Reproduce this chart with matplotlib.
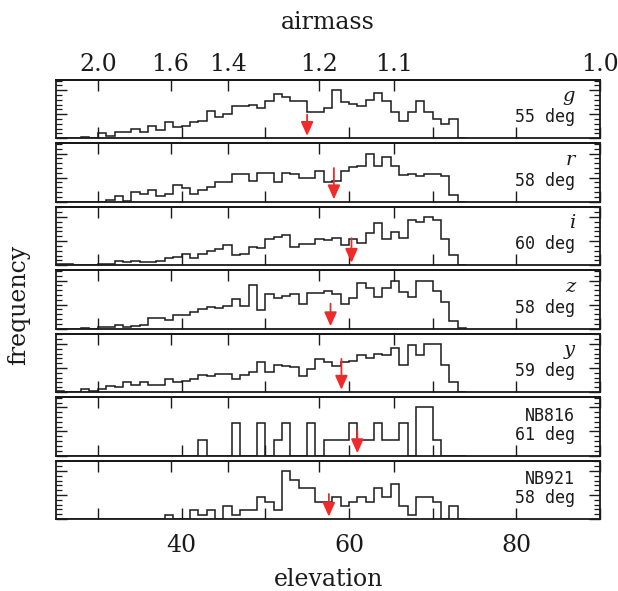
import numpy as np
import matplotlib
matplotlib.use('Agg')
import matplotlib.pyplot as plt
from matplotlib.ticker import MultipleLocator, FixedLocator, FormatStrFormatter, NullLocator

plt.rcParams['font.family'] = 'DejaVu Serif'

# 1-degree elevation bins, 25 .. 74 deg
bin_lo = 25
bin_hi = 74

filters = ['g', 'r', 'i', 'z', 'y', 'NB816', 'NB921']
median_elev = [55.0, 58.2, 60.3, 57.8, 59.1, 61.0, 57.6]
median_label = ['55 deg', '58 deg', '60 deg', '58 deg', '59 deg', '61 deg', '58 deg']
arrow_top = [4.9, 7.0, 5.6, 5.2, 6.9, 5.2, 5.2]

# frequency per bin (normalised so the peak is 10)
freq_g = [0, 0, 0, 0.3, 0, 1.1, 0.4, 1.4, 1.4, 2.0, 1.4, 2.5, 1.8, 3.4, 2.3, 2.6, 3.4,
          3.6, 5.6, 4.4, 5.0, 6.8, 6.8, 6.9, 6.2, 7.7, 9.1, 8.6, 7.7, 7.7, 5.5, 5.5,
          6.3, 10, 7.5, 7.1, 6.6, 7.9, 9.4, 7.7, 5.4, 3.6, 5.4, 7.7, 5.5, 4.1, 2.9,
          4.1, 0]
freq_r = [0, 0, 0, 0, 0, 0, 0.3, 1.2, 0.2, 2.1, 1.5, 2.4, 1.2, 1.7, 3.4, 2.8, 1.5,
          2.4, 3.1, 4.0, 4.0, 5.7, 5.7, 4.3, 6.0, 6.0, 4.0, 6.0, 5.7, 5.0, 5.0, 6.4,
          4.0, 4.3, 6.3, 7.2, 7.4, 10, 7.4, 9.3, 7.4, 5.5, 5.7, 5.3, 5.7, 5.7, 5.3,
          1.4, 0]
freq_i = [0.15, 0.15, 0.1, 0.1, 0.1, 0.3, 0.3, 0.9, 0.6, 0.8, 0.6, 0.7, 0.9, 1.5,
          1.8, 2.3, 1.5, 2.4, 2.9, 3.3, 4.1, 2.1, 2.4, 3.8, 3.6, 5.5, 5.8, 6.3, 3.8,
          4.5, 4.5, 5.4, 5.2, 5.7, 4.1, 5.4, 4.7, 6.6, 8.8, 5.5, 6.9, 5.7, 9.3, 9.0,
          10, 9.3, 5.5, 2.2, 0]
freq_z = [0, 0, 0, 0.1, 0, 0.3, 0.3, 0.7, 0.3, 0.6, 0.8, 2.2, 2.2, 1.7, 2.8, 2.9,
          3.5, 4.1, 4.4, 4.3, 4.8, 6.2, 4.8, 9.1, 3.8, 7.1, 6.4, 6.8, 7.1, 5.2, 7.5,
          7.5, 7.8, 7.1, 5.2, 6.3, 9.4, 8.4, 6.6, 8.5, 9.9, 7.7, 6.6, 10, 9.8, 7.8,
          5.6, 1.6, 0.1]
freq_y = [0.2, 0, 0, 0.6, 0.2, 0.6, 1.3, 1.0, 2.0, 1.4, 2.1, 1.5, 1.5, 2.8, 2.2, 2.4,
          2.8, 3.5, 3.3, 3.8, 3.8, 2.7, 3.5, 4.2, 6.3, 4.2, 5.6, 5.4, 5.2, 3.4, 4.8,
          6.8, 6.3, 5.4, 6.2, 6.4, 7.8, 7.0, 8.0, 7.7, 9.1, 5.7, 9.8, 7.7, 10, 10,
          5.6, 2.0, 0]
# narrow-band: raw counts per bin
count_nb816 = [0, 0, 0, 0, 0, 0, 0, 0, 0, 0, 0, 0, 0, 0, 0, 0, 0, 1, 0, 0, 0, 2, 0,
               0, 2, 0, 1, 2, 0, 0, 2, 0, 1, 1, 1, 2, 1, 1, 2, 1, 1, 2, 0, 3, 3, 1,
               0, 0, 0]
count_nb921 = [0, 0, 0, 0, 0, 0, 0, 0, 0, 0, 0, 0, 0, 1, 0, 0, 2, 1, 2, 0, 3, 1, 2,
               2, 5, 4, 2, 11, 9, 7, 7, 4, 4, 5, 3, 4, 5, 4, 7, 5, 8, 3, 1, 5, 5, 4,
               0, 3, 0]

series = [freq_g, freq_r, freq_i, freq_z, freq_y, count_nb816, count_nb921]

airmass_ticks = [2.0, 1.6, 1.4, 1.2, 1.1, 1.0]

red = '#ee2a2a'
ink = '#1a1a1a'


def elev_to_am(e):
    e = np.clip(np.asarray(e, dtype=float), 1.0, 179.0)
    return 1.0 / np.sin(np.radians(e))


def am_to_elev(a):
    a = np.clip(np.asarray(a, dtype=float), 1.0, 1e3)
    return np.degrees(np.arcsin(1.0 / a))


fig = plt.figure(figsize=(6.18, 5.91), dpi=100)
gs = fig.add_gridspec(7, 1, left=0.0906, right=0.971, bottom=0.1218, top=0.8646,
                      hspace=0.09)

edges = np.arange(bin_lo, bin_hi + 1)

for k, name in enumerate(filters):
    ax = fig.add_subplot(gs[k])
    vals = np.asarray(series[k], dtype=float)
    vals = vals / vals.max() * 10.0
    ax.stairs(vals, edges, baseline=0, color=ink, lw=1.1)

    ax.set_xlim(25, 90)
    ax.set_ylim(0, 12.1)

    ax.xaxis.set_major_locator(MultipleLocator(20))
    ax.xaxis.set_minor_locator(MultipleLocator(10))
    ax.yaxis.set_major_locator(MultipleLocator(5))
    ax.yaxis.set_minor_locator(MultipleLocator(1))
    ax.tick_params(axis='x', which='both', direction='in', top=False, bottom=True,
                   length=8, width=1.0, color=ink, labelsize=17, pad=11,
                   labelcolor=ink)
    ax.tick_params(axis='y', which='major', direction='in', left=True, right=True,
                   length=8, width=1.0, color=ink)
    ax.tick_params(axis='y', which='minor', direction='in', left=True, right=True,
                   length=4, width=0.9, color=ink)
    ax.set_yticklabels([])
    if k < len(filters) - 1:
        ax.set_xticklabels([])
    for sp in ax.spines.values():
        sp.set_linewidth(1.3)
        sp.set_color(ink)

    sec = ax.secondary_xaxis('top', functions=(elev_to_am, am_to_elev))
    sec.xaxis.set_major_locator(FixedLocator(airmass_ticks))
    sec.xaxis.set_minor_locator(NullLocator())
    sec.xaxis.set_major_formatter(FormatStrFormatter('%.1f'))
    sec.tick_params(direction='in', length=8, width=1.0, color=ink, labelsize=17,
                    pad=3, labelcolor=ink)
    sec.spines['top'].set_linewidth(1.3)
    if k > 0:
        sec.set_xticklabels([])

    ax.annotate('', xy=(median_elev[k], 0.5), xytext=(median_elev[k], arrow_top[k]),
                arrowprops=dict(arrowstyle='-|>,head_length=0.85,head_width=0.38',
                                color=red, lw=1.3, mutation_scale=10,
                                shrinkA=0, shrinkB=0))

    if len(name) == 1:
        ax.text(0.954, 0.72, name, transform=ax.transAxes, ha='right', va='center',
                fontsize=14, fontstyle='italic', color=ink)
    else:
        ax.text(0.954, 0.68, name, transform=ax.transAxes, ha='right', va='center',
                fontsize=12, family='DejaVu Sans Mono', color=ink)
    ax.text(0.954, 0.36, median_label[k], transform=ax.transAxes, ha='right',
            va='center', fontsize=12, family='DejaVu Sans Mono', color=ink)

fig.text(0.531, 0.962, 'airmass', ha='center', va='center', fontsize=17, color=ink)
fig.text(0.531, 0.02, 'elevation', ha='center', va='center', fontsize=17, color=ink)
fig.text(0.03, 0.484, 'frequency', ha='center', va='center', rotation=90,
         fontsize=17, color=ink)

fig.savefig('out.png', dpi=100)
